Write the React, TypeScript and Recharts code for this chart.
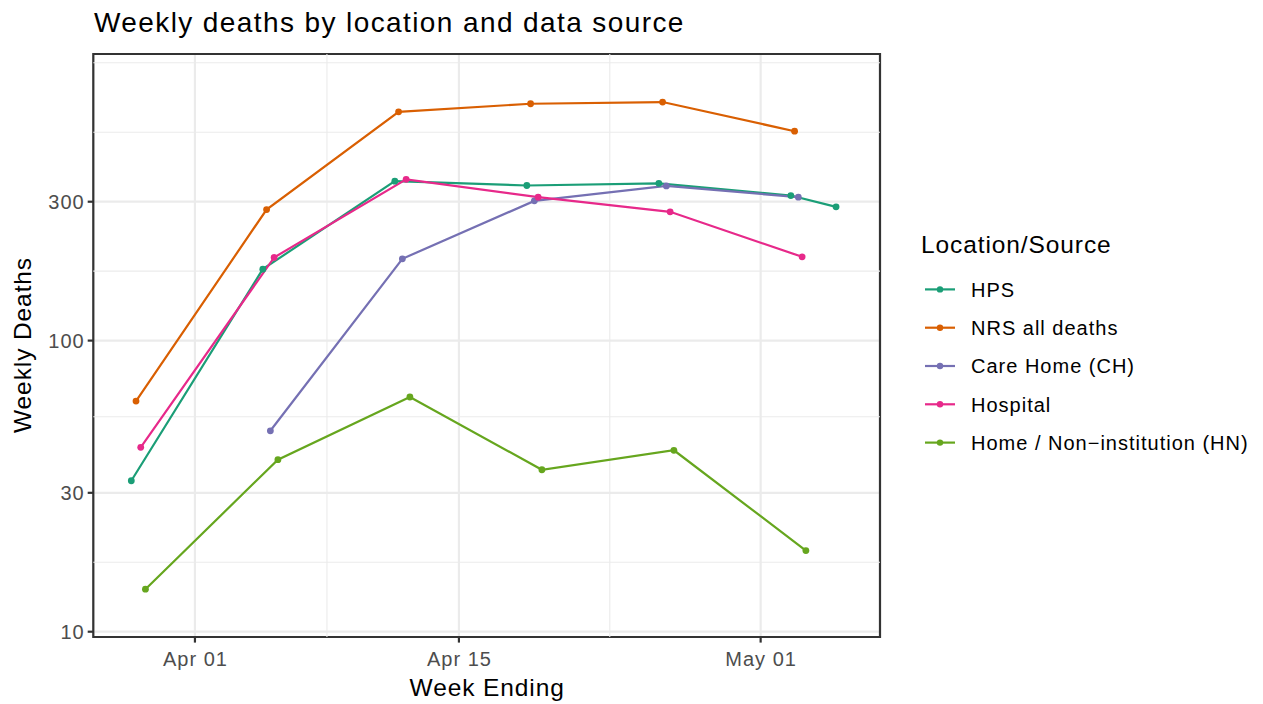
import React from "react";
import {
  LineChart,
  Line,
  XAxis,
  YAxis,
  CartesianGrid,
  ReferenceArea,
  ReferenceLine,
  Label,
} from "recharts";

const FONT = '"Liberation Sans", Arial, Helvetica, sans-serif';

// week ending dates (2020); HPS has one extra, later point
const weekEnding = ["2020-03-29", "2020-04-05", "2020-04-12", "2020-04-19", "2020-04-26", "2020-05-03"];
const hpsDates = [...weekEnding, "2020-05-05"];
const careHomeDates = weekEnding.slice(1);

const hpsDeaths = [33, 176, 353, 341, 347, 315, 288];
const nrsDeaths = [62, 282, 611, 651, 660, 524];
const careHomeDeaths = [49, 191, 302, 340, 311];
const hospitalDeaths = [43, 193, 358, 311, 277, 194];
const homeDeaths = [14, 39, 64, 36, 42, 19];

const seriesNames = ["HPS", "NRS all deaths", "Care Home (CH)", "Hospital", "Home / Non\u2212institution (HN)"];
const seriesColors = ["#1B9E77", "#D95F02", "#7570B3", "#E7298A", "#66A61E"];
const seriesDates = [hpsDates, weekEnding, careHomeDates, weekEnding, weekEnding];
const seriesValues = [hpsDeaths, nrsDeaths, careHomeDeaths, hospitalDeaths, homeDeaths];

const xTickDates = ["2020-04-01", "2020-04-15", "2020-05-01"];
const xMinorDates = ["2020-04-08", "2020-04-23"];
const yTicks = [10, 30, 100, 300];
const yMinor = [17.32, 54.77, 173.2, 519.6, 900];

const MONTHS = ["Jan", "Feb", "Mar", "Apr", "May", "Jun", "Jul", "Aug", "Sep", "Oct", "Nov", "Dec"];
const DAY = 86400000;
const toTime = (d: string) => Date.parse(d + "T00:00:00Z");
const fmtDate = (t: number) => {
  const d = new Date(t);
  return `${MONTHS[d.getUTCMonth()]} ${String(d.getUTCDate()).padStart(2, "0")}`;
};

// dodge like ggplot's position_dodge(width = 1 day), per date
const series = seriesNames.map((name, i) => {
  const data = seriesDates[i].map((d, j) => {
    const present = seriesDates
      .map((ds, k) => (ds.includes(d) ? k : -1))
      .filter((k) => k >= 0);
    const n = present.length;
    const idx = present.indexOf(i);
    const offset = ((idx + 0.5) / n - 0.5) * DAY;
    return { x: toTime(d) + offset, y: seriesValues[i][j] };
  });
  return { name, color: seriesColors[i], data };
});

const origin = toTime("2020-04-01");
const xDomain = [origin - 5.39 * DAY, origin + 36.33 * DAY];
const yDomain = [9.59, 965];
const xTicks = xTickDates.map(toTime);
const xMinor = xMinorDates.map(toTime);

const TICK_COLOR = "#4D4D4D";

const XTick = (props: any) => {
  const { x, y, payload } = props;
  return (
    <text x={x} y={y} dy={23.4} dx={0.5} textAnchor="middle" fill={TICK_COLOR}
      fontSize={20} fontFamily={FONT} letterSpacing={1}>
      {fmtDate(payload.value)}
    </text>
  );
};

const YTick = (props: any) => {
  const { x, y, payload } = props;
  return (
    <text x={x} y={y} dy={7.5} dx={1} textAnchor="end" fill={TICK_COLOR}
      fontSize={20} fontFamily={FONT} letterSpacing={1}>
      {String(payload.value)}
    </text>
  );
};

const XTitle = (props: any) => {
  const vb = props.viewBox;
  return (
    <text x={vb.x + vb.width / 2 + 0.5} y={696} textAnchor="middle" fill="#000"
      fontSize={24.5} fontFamily={FONT} letterSpacing={0.9}>
      Week Ending
    </text>
  );
};

const YTitle = (props: any) => {
  const vb = props.viewBox;
  const cy = vb.y + vb.height / 2;
  return (
    <text x={31} y={cy} transform={`rotate(-90 31 ${cy})`} textAnchor="middle" fill="#000"
      fontSize={24.5} fontFamily={FONT} letterSpacing={0.9} dx={0.5}>
      Weekly Deaths
    </text>
  );
};

export default function App() {
  return (
    <div style={{ position: "absolute", left: 0, top: 0, width: 1263, height: 704, background: "#fff" }}>
      <LineChart width={1263} height={704} margin={{ top: 54, right: 383, bottom: 0, left: 0 }}>
        {yMinor.map((v) => (
          <ReferenceLine key={"ym" + v} y={v} stroke="#EBEBEB" strokeWidth={1.1} />
        ))}
        {xMinor.map((v) => (
          <ReferenceLine key={"xm" + v} x={v} stroke="#EBEBEB" strokeWidth={1.1} />
        ))}
        <CartesianGrid stroke="#EBEBEB" strokeWidth={2.2} />
        <XAxis
          type="number"
          dataKey="x"
          domain={xDomain}
          ticks={xTicks}
          allowDataOverflow
          height={67}
          tickSize={5.6}
          tickMargin={0}
          tick={<XTick />}
          tickLine={{ stroke: "#333333", strokeWidth: 2.2 }}
          axisLine={false}
        >
          <Label content={<XTitle />} />
        </XAxis>
        <YAxis
          type="number"
          scale="log"
          domain={yDomain}
          ticks={yTicks}
          allowDataOverflow
          width={93.3}
          tickSize={5.6}
          tickMargin={4}
          tick={<YTick />}
          tickLine={{ stroke: "#333333", strokeWidth: 2.2 }}
          axisLine={false}
        >
          <Label content={<YTitle />} />
        </YAxis>
        {series.map((s) => (
          <Line
            key={s.name}
            name={s.name}
            data={s.data}
            dataKey="y"
            type="linear"
            stroke={s.color}
            strokeWidth={2.2}
            dot={{ r: 3.4, fill: s.color, stroke: s.color, strokeWidth: 0 }}
            activeDot={false}
            isAnimationActive={false}
          />
        ))}
        <ReferenceArea
          x1={xDomain[0]}
          x2={xDomain[1]}
          y1={yDomain[0]}
          y2={yDomain[1]}
          fill="none"
          fillOpacity={0}
          stroke="#333333"
          strokeWidth={2.2}
          strokeOpacity={1}
          ifOverflow="visible"
        />
      </LineChart>
      <svg width={1263} height={704} style={{ position: "absolute", left: 0, top: 0, pointerEvents: "none" }}>
        <text x={94} y={32} fontSize={28} fontFamily={FONT} letterSpacing={1.4} fill="#000">
          Weekly deaths by location and data source
        </text>
        <text x={921} y={253} fontSize={24.5} fontFamily={FONT} letterSpacing={0.9} fill="#000">
          Location/Source
        </text>
        {series.map((s, i) => {
          const base = 296.7 + i * 38.3;
          const cy = base - 7.3;
          return (
            <g key={s.name}>
              <line x1={925} x2={955} y1={cy} y2={cy} stroke={s.color} strokeWidth={2.2} />
              <circle cx={940} cy={cy} r={3.2} fill={s.color} />
              <text x={971} y={base} fontSize={20} fontFamily={FONT} letterSpacing={1} fill="#000">
                {s.name}
              </text>
            </g>
          );
        })}
      </svg>
    </div>
  );
}
